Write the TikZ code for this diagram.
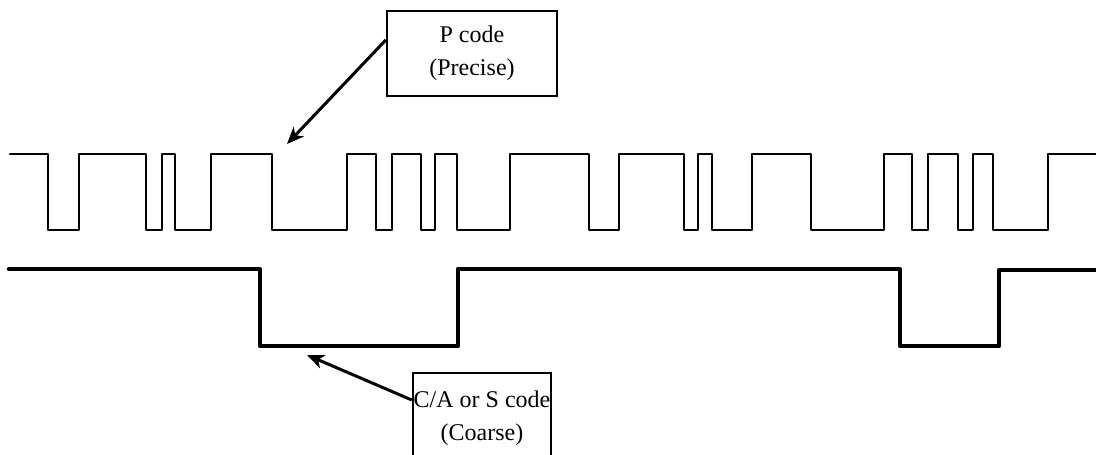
\documentclass[tikz,border=0pt]{standalone}
\usepackage{fontspec}
\setmainfont{Liberation Serif}
\usetikzlibrary{arrows.meta}
\begin{document}
\begin{tikzpicture}[x=1pt,y=-1pt,
  pwave/.style={line width=2.6pt,line join=round,line cap=round},
  cawave/.style={line width=4.5pt,line join=round,line cap=round},
  labelbox/.style={draw,line width=2.4pt,align=center,inner sep=0pt,
    font=\fontsize{24}{33}\selectfont},
  pointer/.style={line width=3pt,-{Stealth[length=17pt,width=14pt,inset=5pt]}}]
\useasboundingbox (0,0) rectangle (1096,455);
\clip (0,0) rectangle (1096,455);
% P code waveform
\draw[pwave] (10,154) -| (48,230) -| (79,154) -| (146,230) -| (162,154)
  -| (175,230) -| (211,154) -| (272,230) -| (347,154) -| (376,230)
  -| (392,154) -| (421,230) -| (435,154) -| (457,230) -| (510,154)
  -| (589,230) -| (619,154) -| (684,230) -| (698,154) -| (712,230)
  -| (752,154) -| (811,230) -| (884,154) -| (912,230) -| (928,154)
  -| (958,230) -| (973,154) -| (993,230) -| (1048,154) -- (1097,154);
% C/A code waveform
\draw[cawave] (9,269) -| (260,346) -| (458,269) -| (900,346) -| (999,270) -- (1097,270);
% labels
\node[labelbox,minimum width=170pt,minimum height=85pt] (pbox) at (472,53.5)
  {P code\\(Precise)};
\node[labelbox,minimum width=138pt,minimum height=90pt] (cabox) at (482,418)
  {C/A or S code\\(Coarse)};
\coordinate (ptip) at (287,144);
\coordinate (catip) at (307,355);
\draw[pointer] ([yshift=13.5pt]pbox.west) -- (ptip);
\draw[pointer] ([yshift=18pt]cabox.west) -- (catip);
\end{tikzpicture}
\end{document}
